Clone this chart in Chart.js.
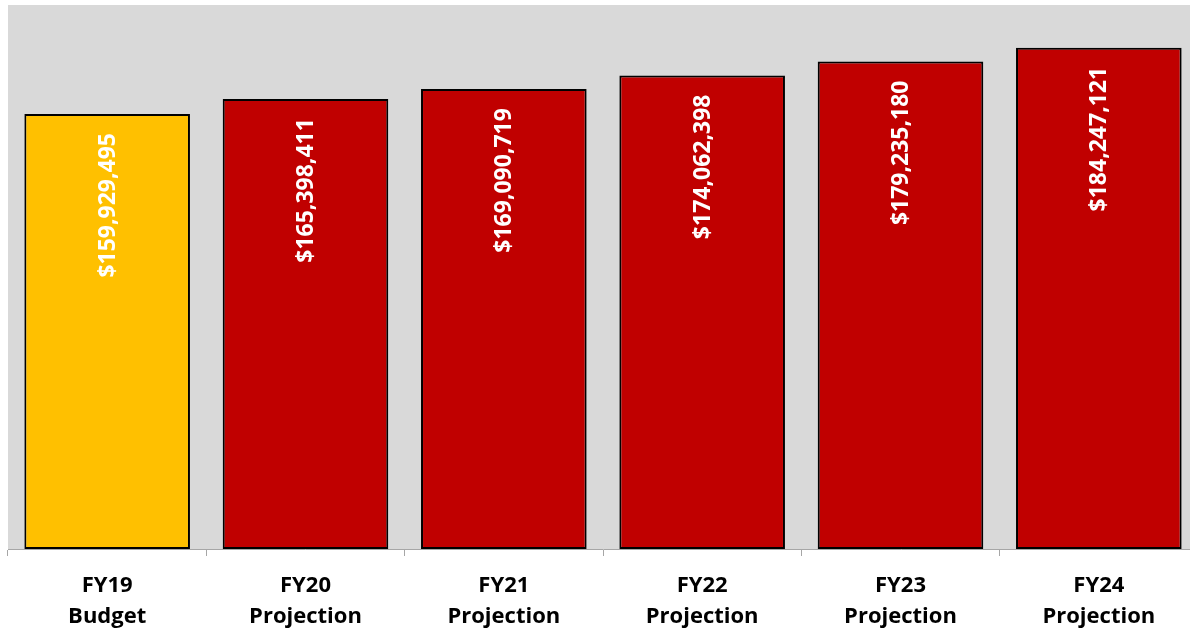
<!DOCTYPE html>
<html>
<head>
<meta charset="utf-8">
<script src="https://cdn.jsdelivr.net/npm/chart.js@4"></script>
<style>
  html, body { margin: 0; padding: 0; background: #fff; overflow: hidden; }
  #wrap { width: 1190px; height: 631px; overflow: hidden; }
</style>
</head>
<body>
<div id="wrap"><canvas id="budgetChart" width="1198" height="631"></canvas></div>
<script>
// fiscal years and their totals
const years = [['FY19', 'Budget'], ['FY20', 'Projection'], ['FY21', 'Projection'],
               ['FY22', 'Projection'], ['FY23', 'Projection'], ['FY24', 'Projection']];
const totals = [159929495, 165398411, 169090719, 174062398, 179235180, 184247121];
const barColors = ['#FFC000', '#C00000', '#C00000', '#C00000', '#C00000', '#C00000'];

const fontFamily = '"Open Sans", "Liberation Sans", sans-serif';

function money(v){
    return '$' + v.toLocaleString('en-US');
}

// grey fill behind the plot area
const plotBackground = {
    id: 'plotBackground',
    beforeDraw(chart){
        const a = chart.chartArea;
        const ctx = chart.ctx;
        ctx.save();
        ctx.fillStyle = '#D9D9D9';
        ctx.fillRect(a.left, a.top, a.right - a.left, a.bottom - a.top);
        ctx.restore();
    }
};

// vertical dollar labels just under each bar top
const barValues = {
    id: 'barValues',
    afterDatasetsDraw(chart){
        const ctx = chart.ctx;
        const meta = chart.getDatasetMeta(0);
        ctx.save();
        ctx.fillStyle = '#FFFFFF';
        ctx.font = 'bold 23px ' + fontFamily;
        ctx.textAlign = 'right';
        ctx.textBaseline = 'middle';
        meta.data.forEach((bar, i) => {
            ctx.save();
            ctx.translate(bar.x + 1, bar.y + 19);
            ctx.rotate(-Math.PI / 2);
            ctx.fillText(money(totals[i]), 0, 0);
            ctx.restore();
        });
        ctx.restore();
    }
};

const ctx = document.getElementById('budgetChart').getContext('2d');
const budgetChart = new Chart(ctx, {
    type: 'bar',
    data: {
        labels: years,
        datasets: [{
            data: totals,
            backgroundColor: barColors,
            borderColor: '#000000',
            borderWidth: 2,
            borderSkipped: false,
            categoryPercentage: 1,
            barPercentage: 0.835
        }]
    },
    options: {
        responsive: false,
        animation: false,
        layout: { padding: { left: 8, top: 5, right: 0, bottom: 0 } },
        plugins: {
            legend: { display: false },
            tooltip: { enabled: false }
        },
        scales: {
            y: {
                display: false,
                min: 0,
                max: 200000000
            },
            x: {
                offset: true,
                border: { display: true, color: '#A6A6A6', width: 1 },
                grid: {
                    offset: true,
                    drawOnChartArea: false,
                    drawTicks: true,
                    tickLength: 7,
                    color: '#A6A6A6'
                },
                ticks: {
                    color: '#000000',
                    font: { family: fontFamily, size: 22, weight: 'bold', lineHeight: 1.42 },
                    padding: 14,
                    maxRotation: 0
                },
                afterFit(scale){ scale.height = 82; }
            }
        }
    },
    plugins: [plotBackground, barValues]
});
</script>
</body>
</html>
